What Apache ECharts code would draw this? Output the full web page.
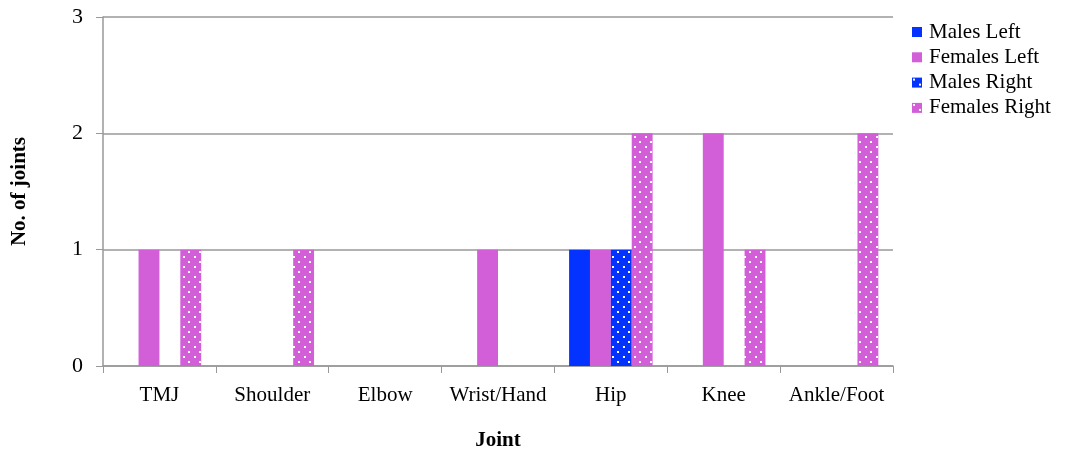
<!DOCTYPE html>
<html><head><meta charset="utf-8">
<script src="https://cdn.jsdelivr.net/npm/echarts@6/dist/echarts.min.js"></script>
<style>html,body{margin:0;padding:0;background:#fff}#c{width:1070px;height:452px}</style>
</head><body><div id="c"></div>
<script>
const categories = ['TMJ','Shoulder','Elbow','Wrist/Hand','Hip','Knee','Ankle/Foot'];
const malesLeft = [0,0,0,0,1,0,0];
const femalesLeft = [1,0,0,1,1,2,0];
const malesRight = [0,0,0,0,1,0,0];
const femalesRight = [1,1,0,0,2,1,2];
const yTicks = [0,1,2,3];

const BLUE = '#0433FF', PINK = '#D35FD8';
function dotted(color){
  const c = document.createElement('canvas');
  c.width = 11; c.height = 10;
  const g = c.getContext('2d');
  g.fillStyle = color; g.fillRect(0,0,11,10);
  g.fillStyle = '#fff';
  g.fillRect(1,1,2,2);
  g.fillRect(7,6,2,2);
  return {image:c, repeat:'repeat'};
}
const font = '"Liberation Serif", "DejaVu Serif", serif';
const chart = echarts.init(document.getElementById('c'), null, {renderer:'canvas'});
chart.setOption({
  animation:false,
  textStyle:{fontFamily:font},
  grid:{left:103,right:177,top:17,bottom:86,containLabel:false,outerBoundsMode:'none'},
  legend:{orient:'vertical',left:912,top:21,padding:[0,0,0,0],itemWidth:10,itemHeight:10,itemGap:3.3,icon:'rect',
    textStyle:{fontFamily:font,fontSize:21,lineHeight:22,color:'#000',padding:[0,0,0,2]}},
  xAxis:{type:'category',data:categories,
    axisLine:{lineStyle:{color:'#999',width:1.5}},
    axisTick:{show:true,length:7,lineStyle:{color:'#999'}},
    axisLabel:{color:'#000',fontSize:21,fontFamily:font,margin:19,interval:0},
    name:'Joint',nameLocation:'middle',nameGap:64,
    nameTextStyle:{fontWeight:'bold',fontSize:21,color:'#000',fontFamily:font}},
  yAxis:{type:'value',min:0,max:3,interval:1,
    axisLine:{show:true,lineStyle:{color:'#999',width:1.5}},
    axisTick:{show:true,length:7,lineStyle:{color:'#999'}},
    splitLine:{lineStyle:{color:'#999',width:1.5}},
    axisLabel:{color:'#000',fontSize:22,fontFamily:font,margin:20,
      formatter:v=>yTicks.includes(v)?String(v):''},
    name:'No. of joints',nameLocation:'middle',nameGap:73,nameRotate:90,
    nameTextStyle:{fontWeight:'bold',fontSize:21,color:'#000',fontFamily:font}},
  series:[
    {name:'Males Left',type:'bar',data:malesLeft,barGap:'0%',barCategoryGap:'26%',itemStyle:{color:BLUE}},
    {name:'Females Left',type:'bar',data:femalesLeft,barGap:'0%',barCategoryGap:'26%',itemStyle:{color:PINK}},
    {name:'Males Right',type:'bar',data:malesRight,barGap:'0%',barCategoryGap:'26%',itemStyle:{color:dotted(BLUE)}},
    {name:'Females Right',type:'bar',data:femalesRight,barGap:'0%',barCategoryGap:'26%',itemStyle:{color:dotted(PINK)}}
  ]
});
</script></body></html>
